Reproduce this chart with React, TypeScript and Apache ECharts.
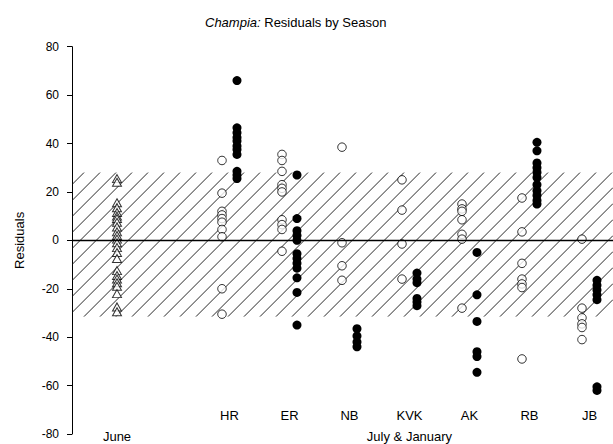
import React, { useEffect, useRef } from "react";
import * as echarts from "echarts";

const FONT = '"Liberation Sans", Arial, Helvetica, sans-serif';

// Categories (July & January sites) and their x positions (June sits at 0)
const categories = ["HR", "ER", "NB", "KVK", "AK", "RB", "JB"];
const categoryPos = [1.875, 2.875, 3.875, 4.875, 5.875, 6.875, 7.875];
const junePos = 0;
const bottomLabels = ["June", "July & January"];
const bottomLabelPos = [0, 4.875];
const pairOffset = 0.125;

const X_MIN = -0.75;
const X_MAX = 8.267;

// Y axis
const yMin = -80;
const yMax = 80;
const yInterval = 20;

// Hatched band
const hatchTop = 28;
const hatchBottom = -31.5;

// June residuals (open triangles)
const juneValues = [25.5, 24, 15.5, 13.5, 11.5, 10, 9, 7.5, 5.5, 3.5, 2, 0.5, -1, -3, -5, -7.5, -12.5, -14.5, -16, -17.5, -19, -22, -27.5, -29.5];

// July residuals (open circles)
const hrJuly = [33, 19.5, 12, 10.5, 9, 7.5, 4.5, 1.5, -20, -30.5];
const erJuly = [35.5, 33, 28.5, 23, 21.5, 20, 8.5, 6.5, 4.5, -4.5];
const nbJuly = [38.5, -1, -10.5, -16.5];
const kvkJuly = [25, 12.5, -1.5, -16];
const akJuly = [15, 13, 12, 8.5, 2.5, 0.5, -28];
const rbJuly = [17.5, 3.5, -9.5, -16, -18, -19.5, -49];
const jbJuly = [0.5, -28, -32, -34.5, -36, -41];

// January residuals (filled circles)
const hrJanuary = [66, 46.5, 44.5, 42.5, 41, 39, 37.5, 35.5, 28.5, 27, 25.5];
const erJanuary = [27, 9, 4, 2, 0, -5.5, -7.5, -9.5, -11.5, -15.5, -21.5, -35];
const nbJanuary = [-36.5, -39.5, -42, -44];
const kvkJanuary = [-13.5, -16, -17.5, -24, -25.5, -27];
const akJanuary = [-5, -22.5, -33.5, -46, -48, -54.5];
const rbJanuary = [40.5, 37, 32, 30, 28, 26, 23, 20.5, 18.5, 16.5, 15];
const jbJanuary = [-16.5, -18.5, -20.5, -22.5, -24.5, -60.5, -62];

const julyGroups = [hrJuly, erJuly, nbJuly, kvkJuly, akJuly, rbJuly, jbJuly];
const januaryGroups = [hrJanuary, erJanuary, nbJanuary, kvkJanuary, akJanuary, rbJanuary, jbJanuary];

function buildPoints(groups: number[][], offset: number) {
  const out: number[][] = [];
  groups.forEach((vals, i) => {
    vals.forEach((v) => out.push([categoryPos[i] + offset, v]));
  });
  return out;
}

export default function App() {
  const ref = useRef<HTMLDivElement>(null);

  useEffect(() => {
    if (!ref.current) return;
    const chart = echarts.init(ref.current, null, { renderer: "svg" });

    const hatchRender = (params: any, api: any) => {
      const tl = api.coord([X_MIN, hatchTop]);
      const br = api.coord([X_MAX, hatchBottom]);
      const L = tl[0], T = tl[1], R = br[0], B = br[1];
      const step = 16;
      const children: any[] = [];
      for (let c = L + T - 4; c <= R + B; c += step) {
        const y1 = Math.max(T, c - R);
        const y2 = Math.min(B, c - L);
        if (y2 - y1 < 2) continue;
        children.push({
          type: "line",
          shape: { x1: c - y1, y1: y1, x2: c - y2, y2: y2 },
          style: { stroke: "#111", lineWidth: 0.9 },
        });
      }
      return { type: "group", children };
    };

    const option: any = {
      animation: false,
      backgroundColor: "#fff",
      title: {
        text: "{i|Champia:} Residuals by Season",
        left: 200,
        top: 11,
        textStyle: {
          fontFamily: FONT,
          fontSize: 13,
          fontWeight: "normal",
          color: "#000",
          rich: {
            i: { fontFamily: FONT, fontSize: 13, fontStyle: "italic", color: "#000" },
          },
        },
      },
      grid: {
        left: 72,
        right: 0,
        top: 46.7,
        bottom: 10,
        containLabel: false,
        outerBoundsMode: "none",
      },
      xAxis: [
        {
          type: "value",
          min: X_MIN,
          max: X_MAX,
          position: "bottom",
          axisLine: { show: false, onZero: false },
          axisTick: { show: false },
          splitLine: { show: false },
          axisLabel: {
            customValues: bottomLabelPos,
            formatter: (v: number) => {
              const i = bottomLabelPos.findIndex((p) => Math.abs(p - v) < 1e-6);
              return i >= 0 ? bottomLabels[i] : "";
            },
            fontFamily: FONT,
            fontSize: 13,
            color: "#000",
            verticalAlign: "middle",
            margin: 2,
          },
        },
        {
          type: "value",
          min: X_MIN,
          max: X_MAX,
          position: "bottom",
          axisLine: { show: false, onZero: false },
          axisTick: { show: false },
          splitLine: { show: false },
          axisLabel: {
            inside: true,
            customValues: categoryPos,
            formatter: (v: number) => {
              const i = categoryPos.findIndex((p) => Math.abs(p - v) < 1e-6);
              return i >= 0 ? categories[i] : "";
            },
            fontFamily: FONT,
            fontSize: 13,
            color: "#000",
            verticalAlign: "middle",
            margin: 18.5,
          },
        },
      ],
      yAxis: {
        type: "value",
        min: yMin,
        max: yMax,
        interval: yInterval,
        name: "Residuals",
        nameLocation: "middle",
        nameGap: 46,
        nameTextStyle: { fontFamily: FONT, fontSize: 13, color: "#000" },
        axisLine: { show: true, onZero: false, lineStyle: { color: "#000", width: 1 } },
        axisTick: { show: true, inside: false, length: 5, lineStyle: { color: "#000" } },
        splitLine: { show: false },
        axisLabel: { fontFamily: FONT, fontSize: 12, color: "#000", margin: 13 },
      },
      series: [
        {
          type: "custom",
          silent: true,
          renderItem: hatchRender,
          data: [[0, 0]],
          z: 1,
          clip: true,
          markLine: {
            silent: true,
            symbol: "none",
            label: { show: false },
            lineStyle: { color: "#000", width: 1.3, type: "solid" },
            data: [{ yAxis: 0 }],
          },
        },
        {
          type: "scatter",
          name: "June",
          symbol: "triangle",
          symbolSize: [9, 8],
          itemStyle: { color: "#fff", borderColor: "#000", borderWidth: 1 },
          data: juneValues.map((v) => [junePos, v]),
          z: 3,
        },
        {
          type: "scatter",
          name: "July",
          symbol: "circle",
          symbolSize: 8.5,
          itemStyle: { color: "#fff", borderColor: "#000", borderWidth: 1 },
          data: buildPoints(julyGroups, -pairOffset),
          z: 3,
        },
        {
          type: "scatter",
          name: "January",
          symbol: "circle",
          symbolSize: 9,
          itemStyle: { color: "#000", borderColor: "#000", borderWidth: 0, opacity: 1 },
          data: buildPoints(januaryGroups, pairOffset),
          z: 4,
        },
      ],
    };

    chart.setOption(option);
    return () => chart.dispose();
  }, []);

  return <div ref={ref} style={{ width: 613, height: 444, position: "absolute", left: 0, top: 0 }} />;
}
